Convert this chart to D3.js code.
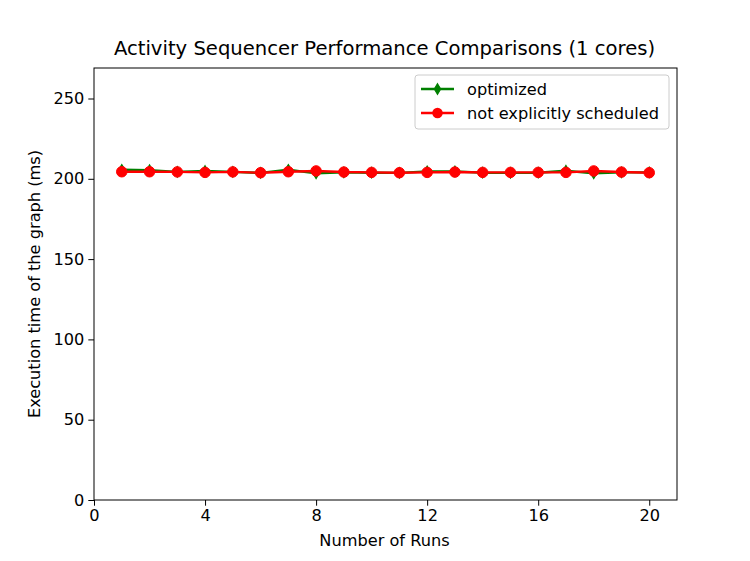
<!DOCTYPE html>
<html><head><meta charset="utf-8">
<script src="https://cdn.jsdelivr.net/npm/d3@7/dist/d3.min.js"></script>
<style>body{margin:0;background:#fff}svg{display:block;font-family:"DejaVu Sans",sans-serif}</style>
</head><body><svg id="c" width="750" height="561"></svg>
<script>
const runs = d3.range(1, 21);
const optimized = [205.6,205.4,204.3,204.9,204.3,203.7,205.6,203.4,204.0,203.8,203.7,204.6,204.6,203.8,203.7,203.8,205.0,203.4,204.0,204.0];
const notScheduled = [204.4,204.4,204.3,204.0,204.3,203.8,204.4,204.9,204.2,204.0,203.8,204.0,204.2,204.0,204.0,204.0,204.0,204.9,204.2,203.8];
const xTicks = [0,4,8,12,16,20];
const yTicks = [0,50,100,150,200,250];
const title = "Activity Sequencer Performance Comparisons (1 cores)";
const xLabel = "Number of Runs";
const yLabel = "Execution time of the graph (ms)";
const seriesNames = ["optimized","not explicitly scheduled"];

const svg = d3.select("#c");
const L=94, R=677, T=68, B=500;
const x = d3.scaleLinear().domain([0,21]).range([L,R]);
const y = d3.scaleLinear().domain([0,269]).range([B,T]);

const green="#008000", red="#ff0000";

const xa = svg.append("g").attr("transform",`translate(0,${B})`)
  .call(d3.axisBottom(x).tickValues(xTicks).tickSize(5.7).tickPadding(4).tickFormat(d3.format("d")));
const ya = svg.append("g").attr("transform",`translate(${L},0)`)
  .call(d3.axisLeft(y).tickValues(yTicks).tickSize(5.7).tickPadding(4).tickFormat(d3.format("d")));
[xa,ya].forEach(a=>{a.select(".domain").remove();a.selectAll("text").attr("font-size",16.2).attr("fill","#000").attr("font-family","DejaVu Sans");a.selectAll("line").attr("stroke","#000").attr("stroke-width",1);});

const line = d3.line().x((d,i)=>x(runs[i])).y(d=>y(d));
function diamond(cx,cy,s){const w=s*0.3,h=s*0.5;return `M${cx},${cy-h}L${cx+w},${cy}L${cx},${cy+h}L${cx-w},${cy}Z`;}
const ms=10.5;
svg.append("path").datum(optimized).attr("d",line).attr("fill","none").attr("stroke",green).attr("stroke-width",2.4);
svg.append("g").selectAll("path").data(optimized).join("path")
  .attr("d",(d,i)=>diamond(x(runs[i]),y(d),ms)).attr("fill",green).attr("stroke",green).attr("stroke-width",1.2);
svg.append("path").datum(notScheduled).attr("d",line).attr("fill","none").attr("stroke",red).attr("stroke-width",2.4);
svg.append("g").selectAll("circle").data(notScheduled).join("circle")
  .attr("cx",(d,i)=>x(runs[i])).attr("cy",d=>y(d)).attr("r",ms/2).attr("fill",red).attr("stroke",red).attr("stroke-width",1);

svg.append("rect").attr("x",L).attr("y",T).attr("width",R-L).attr("height",B-T).attr("fill","none").attr("stroke","#000").attr("stroke-width",1);

svg.append("text").attr("x",(L+R)/2-1).attr("y",T-13).attr("text-anchor","middle").attr("font-size",19.6).text(title);
svg.append("text").attr("x",(L+R)/2-1).attr("y",546).attr("text-anchor","middle").attr("font-size",16.2).text(xLabel);
svg.append("text").attr("transform",`translate(40,${(T+B)/2}) rotate(-90)`).attr("text-anchor","middle").attr("font-size",16.2).text(yLabel);

const lg = svg.append("g");
lg.append("rect").attr("x",415).attr("y",75).attr("width",254).attr("height",54).attr("rx",3)
  .attr("fill","#fff").attr("fill-opacity",0.8).attr("stroke","#ccc").attr("stroke-width",1);
const items=[{n:seriesNames[0],c:green,t:"d"},{n:seriesNames[1],c:red,t:"o"}];
items.forEach((it,i)=>{
  const cy=89+i*24;
  lg.append("line").attr("x1",421).attr("x2",454).attr("y1",cy).attr("y2",cy).attr("stroke",it.c).attr("stroke-width",2.4);
  if(it.t==="d") lg.append("path").attr("d",diamond(437.5,cy,ms)).attr("fill",it.c).attr("stroke",it.c).attr("stroke-width",1.2);
  else lg.append("circle").attr("cx",437.5).attr("cy",cy).attr("r",ms/2).attr("fill",it.c);
  lg.append("text").attr("x",467).attr("y",cy+5.5).attr("font-size",16.2).text(it.n);
});
</script></body></html>
